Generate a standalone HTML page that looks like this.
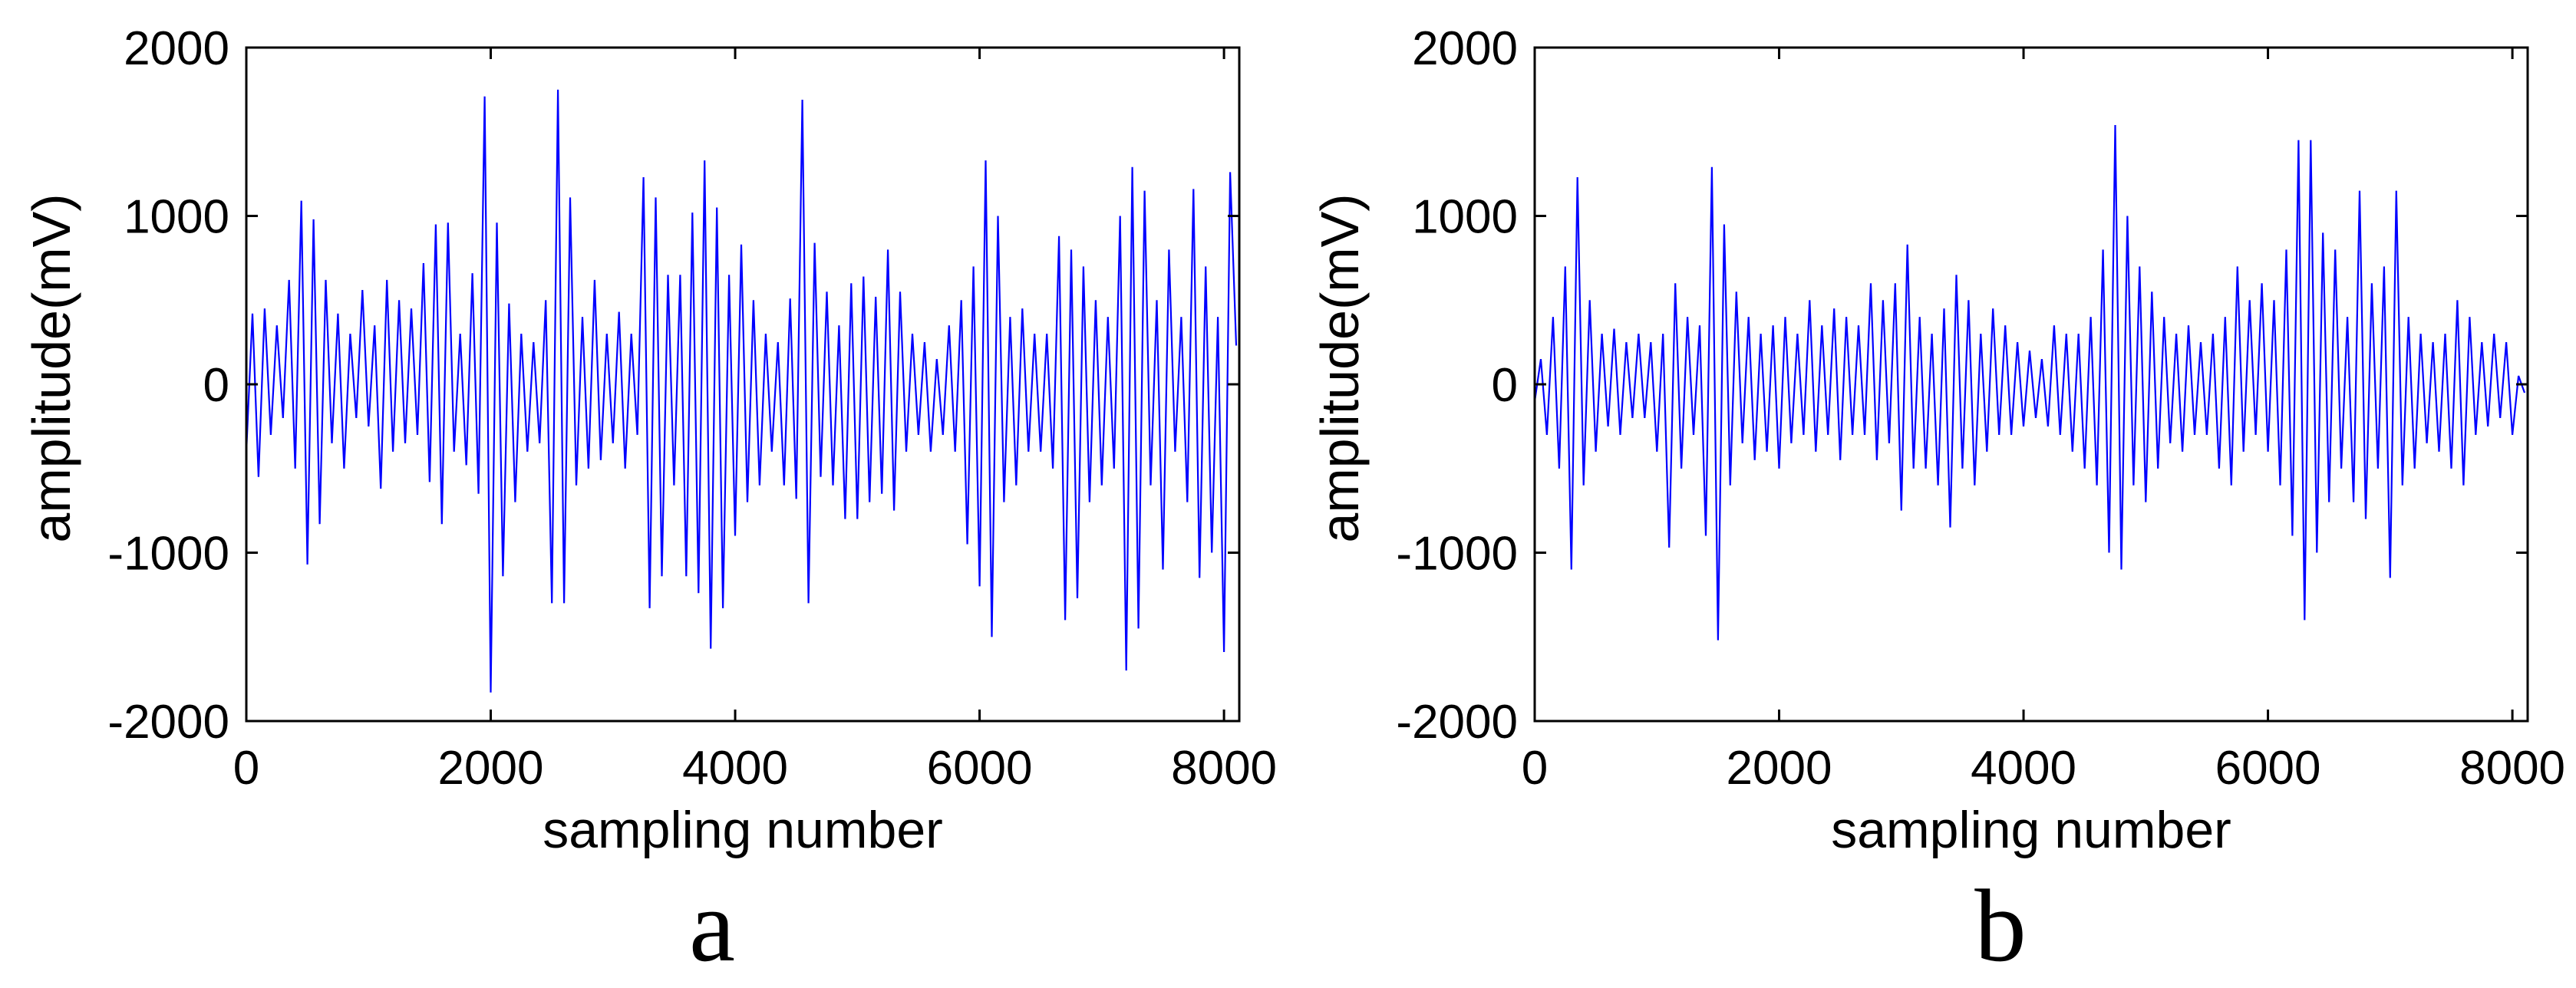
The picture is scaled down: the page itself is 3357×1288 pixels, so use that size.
<!DOCTYPE html>
<html><head><meta charset="utf-8"><style>
html,body{margin:0;padding:0;background:#fff;}
svg{display:block;}
</style></head><body>
<svg id="fig" width="3357" height="1288" viewBox="0 0 3357 1288" xmlns="http://www.w3.org/2000/svg"></svg>
<script>
const xTicks=[0,2000,4000,6000,8000];
const yTicks=[-2000,-1000,0,1000,2000];
const xStep=50;
const seriesA=[-400,420,-550,450,-300,350,-200,620,-500,1090,
-1070,980,-830,620,-350,420,-500,300,-200,560,
-250,350,-620,620,-400,500,-350,450,-300,720,
-580,950,-830,960,-400,300,-480,660,-650,1710,
-1830,960,-1140,480,-700,300,-400,250,-350,500,
-1300,1750,-1300,1110,-600,400,-500,620,-450,300,
-350,430,-500,300,-300,1230,-1330,1110,-1140,650,
-600,650,-1140,1020,-1240,1330,-1570,1050,-1330,650,
-900,830,-700,500,-600,300,-400,250,-600,510,
-680,1690,-1300,840,-550,550,-600,350,-800,600,
-800,640,-700,520,-650,800,-750,550,-400,300,
-300,250,-400,150,-300,350,-400,500,-950,700,
-1200,1330,-1500,1000,-700,400,-600,450,-400,300,
-400,300,-500,880,-1400,800,-1270,700,-700,500,
-600,400,-500,1000,-1700,1290,-1450,1150,-600,500,
-1100,800,-400,400,-700,1160,-1150,700,-1000,400,
-1590,1260,230];
const seriesB=[-100,150,-300,400,-500,700,-1100,1230,-600,500,
-400,300,-250,330,-300,250,-200,300,-200,250,
-400,300,-970,600,-500,400,-300,350,-900,1290,
-1520,950,-600,550,-350,400,-450,300,-400,350,
-500,400,-350,300,-300,500,-400,350,-300,450,
-450,400,-300,350,-300,600,-450,500,-350,600,
-750,830,-500,400,-500,300,-600,450,-850,650,
-500,500,-600,300,-400,450,-300,350,-300,250,
-250,200,-200,150,-250,350,-300,300,-400,300,
-500,400,-600,800,-1000,1540,-1100,1000,-600,700,
-700,550,-500,400,-350,300,-400,350,-300,250,
-300,300,-500,400,-600,700,-400,500,-300,600,
-400,500,-600,800,-900,1450,-1400,1450,-1000,900,
-700,800,-500,400,-700,1150,-800,600,-500,700,
-1150,1150,-600,400,-500,300,-350,250,-400,300,
-500,500,-600,400,-300,250,-250,300,-200,250,
-300,50,-50];
const NS='http://www.w3.org/2000/svg';
const svg=document.getElementById('fig');
function mk(tag,attrs,parent){const e=document.createElementNS(NS,tag);for(const k in attrs)e.setAttribute(k,attrs[k]);(parent||svg).appendChild(e);return e;}
function panel(key,left,values,letter){
  const top=62,bottom=940,width=1294,xmax=8125;
  const sx=v=>left+v/xmax*width;
  const sy=v=>501-v/2000*(bottom-501);
  const g=mk('g',{});
  
  
  const pts=values.map((v,i)=>sx(i*xStep).toFixed(1)+','+sy(v).toFixed(1)).join(' ');
  const line=mk('polyline',{points:pts,fill:'none',stroke:'#0000ff','stroke-width':2.2},g);
  
  
  const box=mk('rect',{x:left,y:top,width:width,height:bottom-top,fill:'none',stroke:'#000','stroke-width':3},g);
  
  
  xTicks.forEach(t=>{
    const x=sx(t);
    mk('line',{x1:x,y1:bottom,x2:x,y2:bottom-15,stroke:'#000','stroke-width':3},g);
    mk('line',{x1:x,y1:top,x2:x,y2:top+15,stroke:'#000','stroke-width':3},g);
    const tx=mk('text',{x:x,y:1022,'text-anchor':'middle','font-family':'Liberation Sans, sans-serif','font-size':62},g);
    
    
    tx.textContent=t;
  });
  yTicks.forEach(t=>{
    const y=sy(t);
    mk('line',{x1:left,y1:y,x2:left+15,y2:y,stroke:'#000','stroke-width':3},g);
    mk('line',{x1:left+width,y1:y,x2:left+width-15,y2:y,stroke:'#000','stroke-width':3},g);
    const ty=mk('text',{x:left-22,y:y+22,'text-anchor':'end','font-family':'Liberation Sans, sans-serif','font-size':62},g);
    
    
    ty.textContent=t;
  });
  const xl=mk('text',{x:left+width/2,y:1105,'text-anchor':'middle','font-family':'Liberation Sans, sans-serif','font-size':68},g);
  
  
  xl.textContent='sampling number';
  const yl=mk('text',{x:0,y:0,'text-anchor':'middle','font-family':'Liberation Sans, sans-serif','font-size':70,transform:'translate('+(left-230)+',480) rotate(-90)'},g);
  
  
  yl.textContent='amplitude(mV)';
  const lt=mk('text',{x:left+width/2-40,y:1252,'text-anchor':'middle','font-family':'Liberation Serif, serif','font-size':135},g);
  
  
  lt.textContent=letter;
}
panel('a',321,seriesA,'a');
panel('b',2000,seriesB,'b');
</script>
</body></html>
